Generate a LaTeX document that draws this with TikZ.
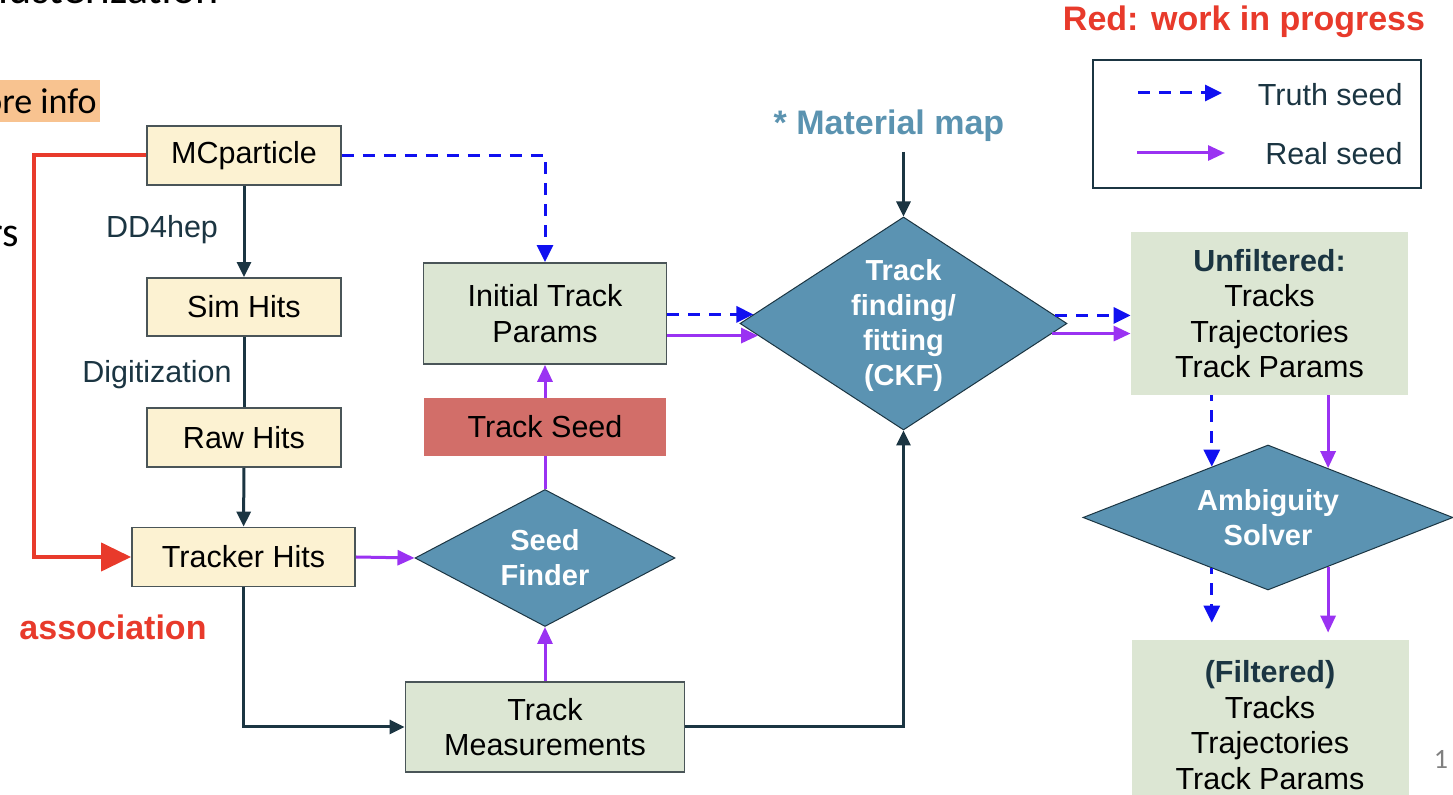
\documentclass[tikz,border=0pt]{standalone}
\usepackage{fontspec}
\setmainfont{Liberation Sans}
\newfontfamily\carlito{Carlito}
\usetikzlibrary{shapes.geometric,arrows.meta,calc}

\definecolor{cream}{HTML}{FCF2D2}
\definecolor{sage}{HTML}{DCE6D3}
\definecolor{seedred}{HTML}{D26E69}
\definecolor{dia}{HTML}{5B93B2}
\definecolor{dark}{HTML}{1B3542}
\definecolor{boxline}{HTML}{4A5558}
\definecolor{truthblue}{HTML}{1010F0}
\definecolor{realpurple}{HTML}{9A32F2}
\definecolor{assocred}{HTML}{E83A2B}
\definecolor{matblue}{HTML}{5B93B0}
\definecolor{hl}{HTML}{F8C390}

\begin{document}
\begin{tikzpicture}[x=0.5pt,y=-0.5pt,
  box/.style={draw=boxline, line width=0.9pt, inner sep=0pt, align=center,
    font=\fontsize{15.25}{17.75}\selectfont},
  ybox/.style={box, fill=cream},
  gbox/.style={box, fill=sage},
  plainbox/.style={fill=sage, inner sep=0pt, align=center,
    font=\fontsize{15.25}{17.75}\selectfont},
  dnode/.style={diamond, fill=dia, draw=dark, line width=0.5pt, inner sep=0pt},
  dtext/.style={text=white, font=\bfseries\fontsize{14.5}{17.5}\selectfont, align=center, inner sep=0pt},
  lbl/.style={text=dark, font=\fontsize{15.25}{17.75}\selectfont, inner sep=0pt},
  headred/.style={text=assocred, font=\bfseries\fontsize{17}{20}\selectfont, inner sep=0pt},
  darr/.style={draw=dark, line width=1.5pt, -{Triangle[length=7.5pt,width=7pt]}},
  dline/.style={draw=dark, line width=1.5pt},
  truth/.style={draw=truthblue, line width=1.5pt, dash pattern=on 6pt off 4.5pt, -{Triangle[length=8.5pt,width=8pt]}},
  real/.style={draw=realpurple, line width=1.5pt, -{Triangle[length=8.5pt,width=7.5pt]}},
  realline/.style={draw=realpurple, line width=1.5pt},
  assoc/.style={draw=assocred, line width=2pt, -{Triangle[length=15pt,width=14pt]}},
  slide/.style={font=\carlito, inner sep=0pt}
]
\useasboundingbox (0,0) rectangle (1453,795);
\fill[white] (0,0) rectangle (1453,795);

% slide remnants
\node[slide, anchor=base east, font=\carlito\fontsize{22}{26}\selectfont] (title) at (219,4) {Clusterization};
\node[slide, anchor=east, fill=hl, inner xsep=1.5pt, minimum height=21pt, font=\carlito\fontsize{18}{21}\selectfont] (more) at (100,101) {ore info};
\node[slide, anchor=base east, font=\carlito\fontsize{21}{24}\selectfont] (rs) at (19,247) {rs};
\node[slide, text=gray, font=\carlito\fontsize{14}{16}\selectfont] (pg) at (1441,759) {1};

% yellow boxes
\node[ybox, minimum width=97pt, minimum height=29.5pt] (mc) at (244,155.5) {MCparticle};
\node[ybox, minimum width=97pt, minimum height=29pt] (sim) at (244,307) {Sim Hits};
\node[ybox, minimum width=97pt, minimum height=29.5pt] (raw) at (244,437.5) {Raw Hits};
\node[ybox, minimum width=111.5pt, minimum height=29.5pt] (th) at (243.5,557) {Tracker Hits};

% middle column
\node[gbox, minimum width=121.5pt, minimum height=50.5pt] (init) at (545,313.5) {Initial Track\\Params};
\node[fill=seedred, inner sep=0pt, minimum width=121pt, minimum height=29pt,
  font=\fontsize{15.25}{17.75}\selectfont] (seed) at (545,427) {Track Seed};
\node[dnode, minimum width=130pt, minimum height=68.5pt] (sf) at (545,558) {};
\node[dtext] (sft) at (sf) {Seed\\Finder};
\node[gbox, minimum width=139.5pt, minimum height=45pt] (tm) at (545,727) {Track\\Measurements};

% track finding
\node[dnode, minimum width=163.5pt, minimum height=106.5pt] (tf) at (903.5,323.5) {};
\node[dtext] (tft) at ([yshift=-1pt]tf.center) {Track\\finding/\\fitting\\(CKF)};
\node[text=matblue, font=\bfseries\fontsize{17}{20}\selectfont, inner sep=0pt] (mat) at (889,126) {* Material map};
\coordinate (matstart) at (903.5,152);

% right column
\node[plainbox, minimum width=138.5pt, minimum height=81.5pt] (unf) at (1269.5,313.5)
  {\textcolor{dark}{\bfseries Unfiltered:}\\Tracks\\Trajectories\\Track Params};
\node[dnode, minimum width=185pt, minimum height=72.5pt] (amb) at (1268,517.5) {};
\node[dtext] (ambt) at (amb) {Ambiguity\\Solver};
\node[plainbox, minimum width=138.5pt, minimum height=85pt] (fil) at (1270,725)
  {\textcolor{dark}{\bfseries (Filtered)}\\Tracks\\Trajectories\\Track Params};

% labels
\node[lbl] (dd) at (162,230) {DD4hep};
\node[lbl] (dig) at (157,375) {Digitization};
\node[headred] (asc) at (113,627) {association};
\node[headred] (wip) at (1244,22) {Red: work in progress};

% legend
\node[draw=dark, line width=0.9pt, minimum width=164pt, minimum height=64pt, inner sep=0pt] (lg) at (1257,124) {};
\node[lbl, anchor=east] (lgt) at (1403,95) {Truth seed};
\node[lbl, anchor=east] (lgr) at (1403,154) {Real seed};
\coordinate (lt1) at (1138,93);
\coordinate (lt2) at (1222,93);
\coordinate (lr1) at (1137,153);
\coordinate (lr2) at (1225,153);
\draw[truth] (lt1) -- (lt2);
\draw[real] (lr1) -- (lr2);

% left chain
\draw[darr] (mc) -- (sim);
\draw[dline] (sim) -- (raw);
\draw[darr] (raw) -- (th);
\draw[assoc] (mc.west) -- ++(-112,0) |- (th.west);
\draw[darr] (th.south) |- (tm.west);
\draw[darr] (tm.east) -| (tf.south);
\draw[darr] (matstart) -- (tf.north);

% seeding
\draw[real] (th.east) -- (sf.west);
\draw[real] (tm.north) -- (sf.south);
\draw[realline] (sf.north) -- (seed.south);
\draw[real] (seed) -- (init);
\draw[truth] (mc.east) -| (init.north);

% into and out of track finding
\coordinate (tfA) at ($(tf.west)!0.085!(tf.north)$);
\coordinate (tfB) at ($(tf.west)!0.113!(tf.south)$);
\coordinate (tfC) at ($(tf.east)!0.075!(tf.north)$);
\coordinate (tfD) at ($(tf.east)!0.094!(tf.south)$);
\draw[truth] (init.east |- tfA) -- (tfA);
\draw[real] (init.east |- tfB) -- (tfB);
\draw[truth] (tfC) -- (tfC -| unf.west);
\draw[real] (tfD) -- (tfD -| unf.west);

% ambiguity solver
\coordinate (ambA) at ($(amb.north)!0.303!(amb.west)$);
\coordinate (ambB) at ($(amb.north)!0.324!(amb.east)$);
\coordinate (ambC) at ($(amb.south)!0.303!(amb.west)$);
\coordinate (ambD) at ($(amb.south)!0.324!(amb.east)$);
\draw[truth, dash phase=3pt] (unf.south -| ambA) -- (ambA);
\draw[real] (unf.south -| ambB) -- (ambB);
\draw[truth, dash phase=3pt, shorten >=8.5pt] (ambC) -- (ambC |- fil.north);
\draw[real, shorten >=3.5pt] (ambD) -- (ambD |- fil.north);
\end{tikzpicture}
\end{document}
